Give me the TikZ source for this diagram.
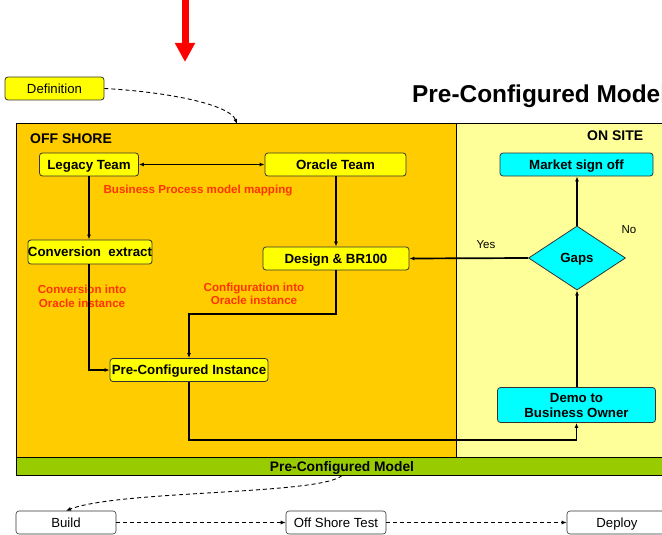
\documentclass[tikz,border=0pt]{standalone}
\usepackage{fontspec}
\setmainfont{Liberation Sans}
\usetikzlibrary{arrows.meta,shapes.geometric}
\definecolor{offshore}{HTML}{FFCC00}
\definecolor{onsite}{HTML}{FFFF99}
\definecolor{boxyellow}{HTML}{FFFF00}
\definecolor{boxcyan}{HTML}{00FFFF}
\definecolor{bargreen}{HTML}{99CC00}
\definecolor{notered}{HTML}{FF3300}
\begin{document}
\begin{tikzpicture}[x=1pt,y=-1pt,
  >={Latex[length=5pt,width=4pt]},
  ybox/.style={draw=black!80, line width=0.8pt, rounded corners=3pt, fill=boxyellow, inner sep=0pt,
    font=\fontsize{13.3}{15}\selectfont\bfseries, align=center, text height=10.5pt, text depth=1pt},
  cbox/.style={ybox, fill=boxcyan},
  wbox/.style={draw=black!80, line width=0.6pt, rounded corners=3pt, fill=white, inner sep=0pt,
    minimum width=100pt, minimum height=23pt, font=\fontsize{13.2}{15}\selectfont, text height=10.5pt, text depth=1pt},
  note/.style={text=notered, font=\fontsize{11.6}{13.5}\selectfont\bfseries, align=center, inner sep=0pt},
  flow/.style={line width=1.7pt, ->},
  dline/.style={line width=0.9pt, dashed, dash pattern=on 4pt off 3pt, ->},
  small/.style={font=\fontsize{11.5}{13}\selectfont, inner sep=0pt}
]
\useasboundingbox (0,0) rectangle (662,535);

% big red arrow
\draw[red, line width=7pt, -{Triangle[length=19pt,width=19pt]}] (185,0) -- (185,62);

% title
\node[anchor=west, inner sep=0pt, font=\fontsize{24.4}{27}\selectfont\bfseries] (title) at (412,96) {Pre-Configured Model};

% regions
\path[fill=offshore, draw=black, line width=0.8pt] (16,123) rectangle (456,457);
\path[fill=onsite, draw=black, line width=0.8pt] (456,123) rectangle (675,457);
\path[fill=bargreen, draw=black, line width=0.8pt] (16,457) rectangle (675,475);
\node[font=\fontsize{13.8}{15}\selectfont\bfseries, inner sep=0pt, text height=10pt, text depth=0pt] (barlabel) at (342,466.5) {Pre-Configured Model};

\node[anchor=west, inner sep=0pt, font=\fontsize{14}{16}\selectfont\bfseries] (offlabel) at (30,139) {OFF SHORE};
\node[anchor=west, inner sep=0pt, font=\fontsize{14}{16}\selectfont\bfseries] (onlabel) at (587,136) {ON SITE};

% definition
\node[ybox, font=\fontsize{13.2}{15}\selectfont, minimum width=99pt, minimum height=23pt] (def) at (54.5,88.5) {Definition};
\coordinate (defend) at (237,124);
\draw[dline] (def.east) .. controls (170,92) and (230,105) .. (defend);

% nodes
\node[ybox, minimum width=99pt, minimum height=23pt] (legacy) at (89,164.5) {Legacy Team};
\node[ybox, minimum width=141pt, minimum height=23pt] (oracle) at (335.5,164.5) {Oracle Team};
\node[ybox, minimum width=124pt, minimum height=24pt] (conv) at (90,252) {Conversion\ \ extract};
\node[ybox, minimum width=146pt, minimum height=23pt] (design) at (336,258.5) {Design \& BR100};
\node[ybox, minimum width=158pt, minimum height=23pt] (pci) at (189,370) {Pre-Configured Instance};
\node[cbox, minimum width=153pt, minimum height=23pt] (market) at (576.5,164.5) {Market sign off};
\node[cbox, minimum width=158pt, minimum height=35pt, text height=, text depth=] (demo) at (576.5,405) {Demo to\\Business Owner};
\node[draw=black!80, line width=0.8pt, fill=boxcyan, diamond, aspect=1.5, inner sep=0pt,
  minimum width=97pt, minimum height=64pt, font=\fontsize{13.3}{15}\selectfont\bfseries,
  text height=10.5pt, text depth=1pt] (gaps) at (577,258) {Gaps};

% notes
\node[note] (n1) at (198,191) {Business Process model mapping};
\node[note] (n2) at (82,296.5) {Conversion into\\Oracle instance};
\node[note] (n3) at (254,294) {Configuration into\\Oracle instance};
\node[small] (yes) at (486,245) {Yes};
\node[small] (no) at (629,230) {No};

% connectors
\draw[line width=1.7pt, <->] (legacy.east) -- (oracle.west);
\draw[flow] (legacy.south) -- (conv.north -| legacy.south);
\draw[flow] (conv.south -| legacy.south) |- (pci.west);
\draw[flow] (oracle.south -| design.north) -- (design.north);
\draw[flow] (design.south) -- (336,314) -| (pci.north);
\draw[flow] (pci.south) -- (189,440) -| (demo.south);
\draw[flow] (demo.north -| gaps.south) -- (gaps.south);
\draw[flow] (gaps.north) -- (market.south -| gaps.north);
\draw[flow] (gaps.west) -- (design.east);

% bottom
\node[wbox] (build) at (66,522.5) {Build};
\node[wbox] (ost) at (336,522.5) {Off Shore Test};
\node[wbox] (deploy) at (617,522.5) {Deploy};
\coordinate (barbottom) at (342,475.5);
\draw[dline] (barbottom) .. controls (320,495) and (120,490) .. (build.north);
\draw[dline] (build.east) -- (ost.west);
\draw[dline] (ost.east) -- (deploy.west);
\end{tikzpicture}
\end{document}
